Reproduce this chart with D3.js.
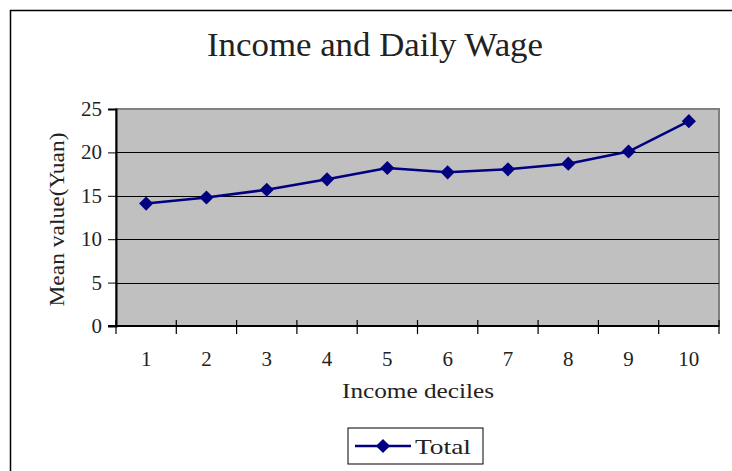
<!DOCTYPE html>
<html>
<head>
<meta charset="utf-8">
<script src="https://cdn.jsdelivr.net/npm/d3@7"></script>
<style>
  body { margin: 0; background: #fff; }
  text { font-family: "Liberation Serif", "DejaVu Serif", serif; fill: #222; }
</style>
</head>
<body>
<svg id="chart"></svg>
<script>
// Data
const deciles = ['1', '2', '3', '4', '5', '6', '7', '8', '9', '10'];
const totalValues = [14.1, 14.8, 15.7, 16.9, 18.2, 17.7, 18.05, 18.7, 20.1, 23.6];
const yTicks = [0, 5, 10, 15, 20, 25];

const svgWidth = 732;
const svgHeight = 471;
const margin = { top: 109, right: 13, bottom: 145, left: 116 };
const chartWidth = svgWidth - margin.left - margin.right;   // 603
const chartHeight = svgHeight - margin.top - margin.bottom; // 217

const svg = d3.select('#chart')
  .attr('width', svgWidth)
  .attr('height', svgHeight);

// Outer frame (top and left edges visible)
svg.append('path')
  .attr('d', 'M10.5,' + svgHeight + ' V10.5 H' + svgWidth)
  .attr('fill', 'none')
  .attr('stroke', '#000')
  .attr('stroke-width', 1.5);

// Title
svg.append('text')
  .attr('x', 375)
  .attr('y', 56)
  .attr('text-anchor', 'middle')
  .attr('font-size', '33px')
  .attr('textLength', 336)
  .attr('lengthAdjust', 'spacingAndGlyphs')
  .text('Income and Daily Wage');

const chart = svg.append('g')
  .attr('transform', 'translate(' + margin.left + ',' + margin.top + ')');

// Scales
const xScale = d3.scaleBand()
  .domain(deciles)
  .range([0, chartWidth]);

const yScale = d3.scaleLinear()
  .domain([0, 25])
  .range([chartHeight, 0]);

// Plot background
chart.append('rect')
  .attr('width', chartWidth)
  .attr('height', chartHeight)
  .attr('fill', '#c0c0c0')
  .attr('stroke', '#808080')
  .attr('stroke-width', 2);

// Gridlines
chart.selectAll('line.grid')
  .data(yTicks.filter(t => t > 0 && t < 25))
  .enter()
  .append('line')
  .attr('class', 'grid')
  .attr('x1', 0)
  .attr('x2', chartWidth)
  .attr('y1', d => Math.round(yScale(d)) + 0.5)
  .attr('y2', d => Math.round(yScale(d)) + 0.5)
  .attr('stroke', '#000')
  .attr('stroke-width', 1);

// Y axis
const yAxisGroup = chart.append('g')
  .call(d3.axisLeft(yScale).tickValues(yTicks).tickSize(8).tickPadding(6));
yAxisGroup.select('.domain').attr('stroke', '#000').attr('stroke-width', 2);
yAxisGroup.selectAll('line').attr('stroke', '#000');
yAxisGroup.selectAll('text')
  .attr('font-size', '20px')
  .attr('font-family', '"Liberation Serif", serif')
  .attr('fill', '#222')
  .attr('textLength', d => (d >= 10 ? 21 : 10.5))
  .attr('lengthAdjust', 'spacingAndGlyphs');

// X axis (ticks between categories)
const xAxisGroup = chart.append('g')
  .attr('transform', 'translate(0,' + chartHeight + ')');
xAxisGroup.append('line')
  .attr('x1', -8)
  .attr('x2', chartWidth)
  .attr('stroke', '#000')
  .attr('stroke-width', 2);
const boundaries = deciles.map(d => xScale(d)).concat([chartWidth]);
xAxisGroup.selectAll('line.tick')
  .data(boundaries)
  .enter()
  .append('line')
  .attr('class', 'tick')
  .attr('x1', d => d)
  .attr('x2', d => d)
  .attr('y1', -6)
  .attr('y2', 8)
  .attr('stroke', '#000')
  .attr('stroke-width', 1.2);
xAxisGroup.selectAll('text.label')
  .data(deciles)
  .enter()
  .append('text')
  .attr('class', 'label')
  .attr('x', d => xScale(d) + xScale.bandwidth() / 2)
  .attr('y', 40)
  .attr('text-anchor', 'middle')
  .attr('font-size', '20px')
  .attr('textLength', d => d.length * 10.5)
  .attr('lengthAdjust', 'spacingAndGlyphs')
  .text(d => d);

// Axis titles
svg.append('text')
  .attr('x', 418)
  .attr('y', 398)
  .attr('text-anchor', 'middle')
  .attr('font-size', '20px')
  .attr('textLength', 152)
  .attr('lengthAdjust', 'spacingAndGlyphs')
  .text('Income deciles');

svg.append('text')
  .attr('transform', 'translate(64,' + (margin.top + chartHeight / 2 + 2) + ') rotate(-90)')
  .attr('text-anchor', 'middle')
  .attr('font-size', '20px')
  .attr('textLength', 174)
  .attr('lengthAdjust', 'spacingAndGlyphs')
  .text('Mean value(Yuan)');

// Series line
const line = d3.line()
  .x((d, i) => xScale(deciles[i]) + xScale.bandwidth() / 2)
  .y(d => yScale(d));

chart.append('path')
  .datum(totalValues)
  .attr('fill', 'none')
  .attr('stroke', '#000080')
  .attr('stroke-width', 2.5)
  .attr('d', line);

const diamond = d3.symbol().type(d3.symbolSquare).size(100);
chart.selectAll('path.marker')
  .data(totalValues)
  .enter()
  .append('path')
  .attr('class', 'marker')
  .attr('d', diamond)
  .attr('transform', (d, i) => 'translate(' + (xScale(deciles[i]) + xScale.bandwidth() / 2) + ',' + yScale(d) + ') rotate(45)')
  .attr('fill', '#000080');

// Legend
const legend = svg.append('g')
  .attr('transform', 'translate(348,428)');
legend.append('rect')
  .attr('width', 135)
  .attr('height', 36)
  .attr('fill', '#fff')
  .attr('stroke', '#000')
  .attr('stroke-width', 1);
legend.append('line')
  .attr('x1', 7)
  .attr('x2', 63)
  .attr('y1', 18)
  .attr('y2', 18)
  .attr('stroke', '#000080')
  .attr('stroke-width', 2.5);
legend.append('path')
  .attr('d', diamond)
  .attr('transform', 'translate(35,18) rotate(45)')
  .attr('fill', '#000080');
legend.append('text')
  .attr('x', 67)
  .attr('y', 26)
  .attr('font-size', '22px')
  .attr('textLength', 56)
  .attr('lengthAdjust', 'spacingAndGlyphs')
  .text('Total');
</script>
</body>
</html>
